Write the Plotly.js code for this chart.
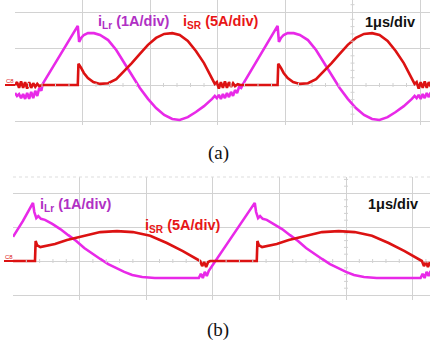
<!DOCTYPE html>
<html>
<head>
<meta charset="utf-8">
<script src="https://cdn.plot.ly/plotly-3.0.1.min.js"></script>
<style>html,body{margin:0;padding:0;background:#fff;}#chart{width:430px;height:341px;}</style>
</head>
<body>
<div id="chart"></div>
<script>
// ---- Panel (a): time in µs, amplitude in divisions ----
const aLrT = [0,0.03,0.06,0.09,0.12,0.15,0.18,0.21,0.24,0.27,0.30,0.33,0.36,0.39,0.41,0.93,0.95,0.98,1.02,1.08,1.17,1.26,1.38,1.50,1.61,1.73,1.85,1.97,2.09,2.21,2.33,2.44,2.56,2.68,2.80,2.92,2.96,2.99,3.02,3.05,3.08,3.11,3.14,3.17,3.20,3.23,3.26,3.29,3.32,3.35,3.38,3.89,3.91,3.94,3.98,4.04,4.13,4.22,4.34,4.46,4.57,4.69,4.81,4.93,5.05,5.17,5.29,5.40,5.52,5.64,5.76,5.88,5.92,5.95,5.98,6.01,6.04,6.07,6.10,6.13,6.16];
const aLrV = [-0.22,-0.30,-0.25,-0.36,-0.25,-0.38,-0.22,-0.38,-0.19,-0.36,-0.16,-0.30,-0.08,-0.16,0.03,1.62,1.18,1.29,1.37,1.42,1.42,1.37,1.23,0.96,0.63,0.27,-0.08,-0.38,-0.63,-0.82,-0.93,-0.96,-0.88,-0.74,-0.58,-0.38,-0.30,-0.36,-0.27,-0.38,-0.25,-0.36,-0.22,-0.33,-0.19,-0.30,-0.14,-0.22,-0.05,-0.08,0.03,1.62,1.18,1.29,1.37,1.42,1.42,1.37,1.23,0.96,0.63,0.27,-0.08,-0.38,-0.63,-0.82,-0.93,-0.96,-0.88,-0.74,-0.58,-0.38,-0.30,-0.36,-0.27,-0.38,-0.25,-0.36,-0.22,-0.33,-0.20];
const aSRT = [0,0.03,0.06,0.09,0.12,0.15,0.18,0.21,0.24,0.27,0.30,0.33,0.36,0.40,0.93,0.94,0.98,1.02,1.08,1.16,1.26,1.38,1.50,1.61,1.73,1.85,1.97,2.09,2.21,2.33,2.44,2.56,2.68,2.80,2.89,2.96,2.99,3.02,3.05,3.08,3.11,3.14,3.17,3.20,3.23,3.26,3.30,3.34,3.89,3.90,3.94,3.98,4.04,4.12,4.22,4.34,4.46,4.57,4.69,4.81,4.93,5.05,5.17,5.29,5.40,5.52,5.64,5.76,5.85,5.92,5.95,5.98,6.01,6.04,6.07,6.10,6.13,6.16];
const aSRV = [0,0.08,-0.08,0.10,-0.08,0.08,-0.10,0.08,-0.08,0.05,-0.05,0.03,-0.03,0,0,0.58,0.47,0.33,0.19,0.08,0.03,0.05,0.16,0.36,0.60,0.85,1.10,1.29,1.40,1.42,1.37,1.21,0.93,0.60,0.30,0.03,0.08,-0.10,0.08,-0.08,0.10,-0.08,0.08,-0.05,0.05,-0.03,0.02,0,0,0.58,0.47,0.33,0.19,0.08,0.03,0.05,0.16,0.36,0.60,0.85,1.10,1.29,1.40,1.42,1.37,1.21,0.93,0.60,0.30,0.03,0.08,-0.10,0.08,-0.08,0.10,-0.08,0.08,-0.05];

// ---- Panel (b) ----
const bLrT = [0,0.15,0.30,0.32,0.35,0.38,0.42,0.48,0.59,0.71,0.83,0.95,1.07,1.19,1.31,1.43,1.55,1.67,1.79,1.94,2.13,2.36,2.58,2.79,2.82,2.85,2.88,2.91,2.94,3.63,3.65,3.68,3.71,3.75,3.81,3.92,4.04,4.16,4.28,4.40,4.52,4.64,4.76,4.88,5.00,5.12,5.27,5.46,5.69,5.91,6.12,6.15,6.18,6.21,6.24,6.27];
const bLrV = [0.71,1.18,1.71,1.44,1.26,1.32,1.24,1.21,1.09,0.94,0.76,0.59,0.38,0.21,0.06,-0.09,-0.21,-0.32,-0.41,-0.47,-0.50,-0.50,-0.50,-0.50,-0.38,-0.50,-0.32,-0.44,-0.29,1.71,1.44,1.26,1.32,1.24,1.21,1.09,0.94,0.76,0.59,0.38,0.21,0.06,-0.09,-0.21,-0.32,-0.41,-0.47,-0.50,-0.50,-0.50,-0.50,-0.38,-0.50,-0.32,-0.44,-0.29];
const bSRT = [0,0.33,0.34,0.36,0.41,0.48,0.63,0.81,1.05,1.31,1.56,1.80,2.06,2.31,2.55,2.81,2.84,2.87,2.90,2.93,2.96,3.66,3.67,3.69,3.74,3.81,3.96,4.14,4.38,4.64,4.89,5.13,5.39,5.64,5.88,6.14,6.17,6.20,6.23,6.26];
const bSRV = [0,0,0.59,0.47,0.41,0.44,0.50,0.62,0.74,0.85,0.88,0.85,0.74,0.53,0.29,0,-0.15,-0.03,-0.18,-0.03,0,0,0.59,0.47,0.41,0.44,0.50,0.62,0.74,0.85,0.88,0.85,0.74,0.53,0.29,0,-0.15,-0.03,-0.18,-0.03];

const labelLr = 'i<sub>Lr</sub> (1A/div)';
const labelSR = 'i<sub>SR</sub> (5A/div)';
const labelTime = '1μs/div';

const W = 430, H = 341;
const MAG = '#e829e8', RED = '#dc1212';
const MAGTXT = '#b030c4', REDTXT = '#e81616';
const GRID = '#d2d2d2';

const traces = [
  {x: aLrT, y: aLrV, xaxis: 'x', yaxis: 'y', mode: 'lines', line: {color: MAG, width: 2.6}},
  {x: aSRT, y: aSRV, xaxis: 'x', yaxis: 'y', mode: 'lines', line: {color: RED, width: 2.6}},
  {x: bLrT, y: bLrV, xaxis: 'x2', yaxis: 'y2', mode: 'lines', line: {color: MAG, width: 2.6}},
  {x: bSRT, y: bSRV, xaxis: 'x2', yaxis: 'y2', mode: 'lines', line: {color: RED, width: 2.6}}
];

function ax(extra) {
  return Object.assign({showgrid: true, gridcolor: GRID, gridwidth: 1, zeroline: false,
    showticklabels: false, ticks: '', showline: false, dtick: 1, tick0: 0, fixedrange: true}, extra);
}

// panel geometry (pixels)
const A = {left: 15, top: 0, bottom: 125, zero: 85, dx: 67.5, dy: 36.5};
const B = {left: 13, top: 177, bottom: 300, zero: 261, dx: 66.6, dy: 34};

const shapes = [];
function centerTicks(P, xr, yr) {
  const hx = 2 / P.dx, hy = 2 / P.dy;
  const xmax = (W - P.left) / P.dx;
  for (let t = 0.2; t < xmax; t += 0.2) {
    if (Math.abs(t - Math.round(t)) < 1e-6) continue;
    shapes.push({type: 'line', xref: xr, yref: yr, x0: t, x1: t, y0: -hy, y1: hy, line: {color: GRID, width: 1}});
  }
  const ymin = (P.zero - P.bottom) / P.dy, ymax = (P.zero - P.top) / P.dy;
  for (let v = Math.ceil(ymin / 0.2) * 0.2; v < ymax; v += 0.2) {
    if (Math.abs(v - Math.round(v)) < 1e-6) continue;
    shapes.push({type: 'line', xref: xr, yref: yr, x0: 5 - hx, x1: 5 + hx, y0: v, y1: v, line: {color: GRID, width: 1}});
  }
}
centerTicks(A, 'x', 'y');
centerTicks(B, 'x2', 'y2');
// channel markers
shapes.push({type: 'line', xref: 'paper', yref: 'paper', x0: 5 / W, x1: 15 / W, y0: 1 - 85 / H, y1: 1 - 85 / H, line: {color: RED, width: 2}});
shapes.push({type: 'line', xref: 'paper', yref: 'paper', x0: 4 / W, x1: 13 / W, y0: 1 - 261 / H, y1: 1 - 261 / H, line: {color: RED, width: 2}});
// top border of panel b
shapes.push({type: 'line', xref: 'paper', yref: 'paper', x0: 13 / W, x1: 1, y0: 1 - 177 / H, y1: 1 - 177 / H, line: {color: '#dddddd', width: 1, dash: 'dot'}});

function txt(text, px, py, color, size, family, weight) {
  return {text: text, xref: 'paper', yref: 'paper', x: px / W, y: 1 - py / H, xanchor: 'center', yanchor: 'middle',
    showarrow: false, font: {color: color, size: size, family: family, weight: weight || 'normal'}};
}
const SANS = 'Liberation Sans, Arial, sans-serif';
const SERIF = 'Liberation Serif, Times New Roman, serif';
const annotations = [
  txt(labelLr, 134, 22, MAGTXT, 14.5, SANS, 'bold'),
  txt(labelSR, 221, 22, REDTXT, 14.5, SANS, 'bold'),
  txt(labelTime, 390, 22, '#111111', 14.5, SANS, 'bold'),
  txt(labelLr, 76, 205, MAGTXT, 14.5, SANS, 'bold'),
  txt(labelSR, 182, 226, REDTXT, 14.5, SANS, 'bold'),
  txt(labelTime, 393, 204, '#111111', 14.5, SANS, 'bold'),
  txt('(a)', 218, 153, '#111111', 19, SERIF),
  txt('(b)', 218, 330, '#111111', 19, SERIF),
  txt('C8', 10, 81, RED, 6, SANS),
  txt('C8', 9, 257, RED, 6, SANS)
];

const layout = {
  width: W, height: H, margin: {l: 0, r: 0, t: 0, b: 0},
  paper_bgcolor: '#ffffff', plot_bgcolor: '#ffffff', showlegend: false,
  xaxis: ax({domain: [A.left / W, 1], range: [0, (W - A.left) / A.dx], anchor: 'y'}),
  yaxis: ax({domain: [1 - A.bottom / H, 1 - A.top / H], range: [(A.zero - A.bottom) / A.dy, (A.zero - A.top) / A.dy], anchor: 'x'}),
  xaxis2: ax({domain: [B.left / W, 1], range: [0, (W - B.left) / B.dx], anchor: 'y2'}),
  yaxis2: ax({domain: [1 - B.bottom / H, 1 - B.top / H], range: [(B.zero - B.bottom) / B.dy, (B.zero - B.top) / B.dy], anchor: 'x2'}),
  shapes: shapes, annotations: annotations
};

Plotly.newPlot('chart', traces, layout, {staticPlot: true, displayModeBar: false});
</script>
</body>
</html>
